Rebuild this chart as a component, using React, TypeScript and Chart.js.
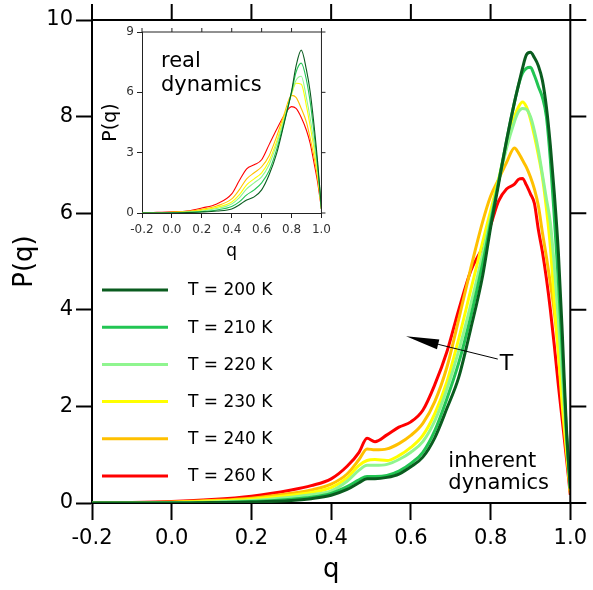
import React, { useEffect, useRef } from "react";
import { Chart, registerables } from "chart.js";

Chart.register(...registerables);

// ---------- data ----------
const seriesLabels = ["T = 200 K", "T = 210 K", "T = 220 K", "T = 230 K", "T = 240 K", "T = 260 K"];
const seriesColors = ["#0a5c1f", "#22c553", "#8ff58f", "#ffff00", "#ffc000", "#ff0000"];

const xTickValues = [-0.2, 0, 0.2, 0.4, 0.6, 0.8, 1.0];
const yTickMain = [0, 2, 4, 6, 8, 10];
const yTickInset = [0, 3, 6, 9];

// inherent dynamics (main panel)
const qMain = [-0.2, -0.1, 0, 0.1, 0.2, 0.3, 0.35, 0.4, 0.44, 0.47, 0.49, 0.51, 0.54, 0.57, 0.6, 0.63, 0.66, 0.69, 0.72, 0.75, 0.78, 0.8, 0.82, 0.84, 0.86, 0.87, 0.88, 0.89, 0.9, 0.91, 0.92, 0.93, 0.94, 0.95, 0.96, 0.97, 0.98, 0.99, 1.0];
const main200 = [0, 0, 0, 0.01, 0.02, 0.05, 0.09, 0.16, 0.28, 0.42, 0.5, 0.5, 0.53, 0.6, 0.75, 0.95, 1.35, 1.95, 2.6, 3.6, 4.7, 5.7, 6.6, 7.5, 8.3, 8.65, 9.0, 9.28, 9.33, 9.22, 9.05, 8.75, 8.2, 7.4, 6.4, 5.2, 3.5, 1.6, 0.3];
const main210 = [0, 0, 0, 0.01, 0.03, 0.08, 0.12, 0.2, 0.34, 0.48, 0.55, 0.55, 0.57, 0.66, 0.82, 1.05, 1.5, 2.15, 2.9, 3.85, 4.95, 5.8, 6.65, 7.5, 8.3, 8.65, 8.9, 9.0, 9.02, 8.85, 8.62, 8.4, 8.0, 7.1, 5.9, 4.6, 3.1, 1.5, 0.3];
const main220 = [0, 0, 0.01, 0.02, 0.05, 0.12, 0.17, 0.25, 0.45, 0.68, 0.78, 0.78, 0.8, 0.9, 1.05, 1.27, 1.7, 2.35, 3.15, 4.1, 5.15, 5.9, 6.65, 7.35, 7.9, 8.1, 8.17, 8.15, 8.0, 7.7, 7.3, 6.8, 6.3, 5.8, 4.9, 3.8, 2.6, 1.4, 0.3];
const main230 = [0, 0, 0.01, 0.04, 0.08, 0.16, 0.22, 0.32, 0.52, 0.78, 0.88, 0.9, 0.88, 0.98, 1.15, 1.4, 1.85, 2.5, 3.4, 4.4, 5.4, 6.05, 6.7, 7.4, 8.0, 8.2, 8.3, 8.2, 7.95, 7.6, 7.2, 6.75, 6.1, 5.3, 4.15, 3.1, 2.0, 1.1, 0.25];
const main240 = [0, 0, 0.02, 0.05, 0.1, 0.2, 0.27, 0.39, 0.6, 0.9, 1.12, 1.1, 1.12, 1.23, 1.4, 1.65, 2.1, 2.8, 3.8, 4.85, 5.82, 6.35, 6.7, 7.05, 7.35, 7.25, 7.1, 6.95, 6.75, 6.5, 6.15, 5.6, 5.1, 4.55, 3.95, 3.2, 2.3, 1.3, 0.2];
const main260 = [0, 0.01, 0.03, 0.07, 0.14, 0.27, 0.36, 0.5, 0.76, 1.05, 1.34, 1.27, 1.41, 1.57, 1.68, 1.92, 2.45, 3.12, 4.0, 4.8, 5.3, 5.75, 6.25, 6.5, 6.6, 6.7, 6.72, 6.58, 6.4, 6.2, 5.65, 5.2, 4.65, 4.0, 3.25, 2.44, 1.7, 0.95, 0.17];

// real dynamics (inset)
const qInset = [-0.2, -0.1, 0, 0.1, 0.2, 0.3, 0.4, 0.45, 0.5, 0.55, 0.6, 0.65, 0.7, 0.75, 0.8, 0.83, 0.865, 0.9, 0.925, 0.95, 0.975, 1.0];
const in200 = [0, 0, 0, 0.02, 0.05, 0.1, 0.2, 0.4, 0.65, 0.8, 1.15, 1.9, 2.95, 4.45, 6.05, 7.3, 8.1, 7.1, 6.0, 4.4, 2.5, 0.2];
const in210 = [0, 0, 0.01, 0.03, 0.07, 0.15, 0.32, 0.55, 0.9, 1.15, 1.5, 2.1, 3.15, 4.5, 6.0, 7.0, 7.45, 6.6, 5.5, 4.0, 2.3, 0.2];
const in220 = [0, 0, 0.02, 0.05, 0.1, 0.22, 0.45, 0.75, 1.2, 1.5, 1.8, 2.4, 3.4, 4.65, 5.95, 6.6, 6.8, 5.7, 4.7, 3.5, 2.1, 0.2];
const in230 = [0, 0.01, 0.03, 0.06, 0.14, 0.28, 0.55, 0.9, 1.4, 1.7, 2.0, 2.6, 3.55, 4.75, 5.9, 6.45, 6.4, 5.3, 4.3, 3.2, 1.9, 0.2];
const in240 = [0, 0.02, 0.04, 0.08, 0.18, 0.35, 0.7, 1.15, 1.7, 2.0, 2.3, 2.85, 3.8, 4.9, 5.85, 5.75, 5.2, 4.5, 3.7, 2.8, 1.7, 0.2];
const in260 = [0, 0.03, 0.06, 0.1, 0.25, 0.45, 0.95, 1.6, 2.2, 2.4, 2.65, 3.4, 4.15, 4.85, 5.29, 5.2, 4.75, 4.1, 3.45, 2.5, 1.5, 0.2];

const mainSeries = [main200, main210, main220, main230, main240, main260];
const insetSeries = [in200, in210, in220, in230, in240, in260];

const FONT = "'DejaVu Sans', Verdana, sans-serif";

// ---------- plugins ----------
const framePlugin = {
  id: "frame",
  afterDatasetsDraw(chart: any, _args: any, opts: any) {
    const { ctx, chartArea: a, scales } = chart;
    ctx.save();
    ctx.strokeStyle = opts.color;
    ctx.lineWidth = opts.width;
    ctx.beginPath();
    ctx.moveTo(a.left, a.top);
    ctx.lineTo(a.right, a.top);
    ctx.lineTo(a.right, a.bottom);
    for (const v of opts.xTicks) {
      const x = scales.x.getPixelForValue(v);
      ctx.moveTo(x, a.top);
      ctx.lineTo(x, a.top - opts.len);
    }
    for (const v of opts.yTicks) {
      const y = scales.y.getPixelForValue(v);
      ctx.moveTo(a.right, y);
      ctx.lineTo(a.right + opts.len, y);
    }
    ctx.stroke();
    ctx.restore();
  },
};

const mainDecorPlugin = {
  id: "mainDecor",
  afterDraw(chart: any) {
    const { ctx, chartArea: a, scales } = chart;
    const sx = scales.x;
    const sy = scales.y;
    ctx.save();
    // legend
    ctx.font = `17px ${FONT}`;
    ctx.textBaseline = "middle";
    ctx.textAlign = "left";
    chart.data.datasets.forEach((ds: any, i: number) => {
      const y = a.top + 270 + i * 37.2;
      ctx.strokeStyle = ds.borderColor;
      ctx.lineWidth = 3;
      ctx.beginPath();
      ctx.moveTo(a.left + 10, y);
      ctx.lineTo(a.left + 76, y);
      ctx.stroke();
      ctx.fillStyle = "#000";
      ctx.fillText(ds.label, a.left + 96, y + 1);
    });
    // arrow pointing towards increasing T
    const tipX = sx.getPixelForValue(0.588);
    const tipY = sy.getPixelForValue(3.45);
    const tailX = sx.getPixelForValue(0.818);
    const tailY = sy.getPixelForValue(2.98);
    const ang = Math.atan2(tipY - tailY, tipX - tailX);
    const headLen = 33;
    const headHalf = 5;
    const bx = tipX - headLen * Math.cos(ang);
    const by = tipY - headLen * Math.sin(ang);
    ctx.strokeStyle = "#000";
    ctx.lineWidth = 1;
    ctx.beginPath();
    ctx.moveTo(tailX, tailY);
    ctx.lineTo(bx, by);
    ctx.stroke();
    ctx.fillStyle = "#000";
    ctx.beginPath();
    ctx.moveTo(tipX, tipY);
    ctx.lineTo(bx + headHalf * Math.sin(ang), by - headHalf * Math.cos(ang));
    ctx.lineTo(bx - headHalf * Math.sin(ang), by + headHalf * Math.cos(ang));
    ctx.closePath();
    ctx.fill();
    ctx.font = `22px ${FONT}`;
    ctx.textAlign = "left";
    ctx.textBaseline = "middle";
    ctx.fillText("T", tailX + 2, tailY + 5);
    // inherent dynamics label
    ctx.font = `21px ${FONT}`;
    ctx.textBaseline = "alphabetic";
    const lx = sx.getPixelForValue(0.694);
    ctx.fillText("inherent", lx, sy.getPixelForValue(0.75));
    ctx.fillText("dynamics", lx, sy.getPixelForValue(0.3));
    ctx.restore();
  },
};

const insetDecorPlugin = {
  id: "insetDecor",
  afterDraw(chart: any) {
    const { ctx, chartArea: a } = chart;
    ctx.save();
    ctx.fillStyle = "#000";
    ctx.font = `21px ${FONT}`;
    ctx.textAlign = "left";
    ctx.textBaseline = "alphabetic";
    ctx.fillText("real", a.left + 19, a.top + 35);
    ctx.fillText("dynamics", a.left + 19, a.top + 59);
    ctx.restore();
  },
};

function makeDatasets(xs: number[], series: number[][], width: number) {
  return series.map((vals, i) => ({
    label: seriesLabels[i],
    data: xs.map((q, j) => ({ x: q, y: vals[j] })),
    borderColor: seriesColors[i],
    backgroundColor: seriesColors[i],
    borderWidth: width,
    pointRadius: 0,
    fill: false,
    cubicInterpolationMode: "monotone" as const,
    borderJoinStyle: "round" as const,
  }));
}

export default function App() {
  const mainRef = useRef<HTMLCanvasElement>(null);
  const insetRef = useRef<HTMLCanvasElement>(null);

  useEffect(() => {
    const mainChart = new Chart(mainRef.current!, {
      type: "line",
      data: { datasets: makeDatasets(qMain, mainSeries, 3) },
      plugins: [framePlugin, mainDecorPlugin],
      options: {
        animation: false,
        responsive: false,
        events: [],
        layout: { padding: { top: 20, right: 18, left: 0, bottom: 0 } },
        plugins: {
          legend: { display: false },
          tooltip: { enabled: false },
          frame: { color: "#000", width: 2, len: 16, xTicks: xTickValues, yTicks: yTickMain },
        } as any,
        scales: {
          x: {
            type: "linear",
            min: -0.2,
            max: 1.0,
            afterBuildTicks: (s: any) => {
              s.ticks = xTickValues.map((v) => ({ value: v }));
            },
            afterFit: (s: any) => {
              s.height = 87;
            },
            ticks: {
              autoSkip: false,
              maxRotation: 0,
              padding: 6,
              color: "#000",
              font: { family: FONT, size: 21 },
              callback: (v: any) => Number(v).toFixed(1),
            },
            grid: { drawOnChartArea: false, drawTicks: true, tickLength: 17, tickWidth: 2, tickColor: "#000", color: "#000" },
            border: { display: true, color: "#000", width: 2 },
            title: { display: true, text: "q", color: "#000", font: { family: FONT, size: 26 }, padding: { top: 0, bottom: 4 } },
          },
          y: {
            type: "linear",
            min: 0,
            max: 10,
            afterBuildTicks: (s: any) => {
              s.ticks = yTickMain.map((v) => ({ value: v }));
            },
            afterFit: (s: any) => {
              s.width = 92;
            },
            ticks: {
              autoSkip: false,
              padding: 3,
              color: "#000",
              font: { family: FONT, size: 21 },
              callback: (v: any) => String(v),
            },
            grid: { drawOnChartArea: false, drawTicks: true, tickLength: 16, tickWidth: 2, tickColor: "#000", color: "#000" },
            border: { display: true, color: "#000", width: 2 },
            title: { display: true, text: "P(q)", color: "#000", font: { family: FONT, size: 26 }, padding: { top: 10, bottom: 0 } },
          },
        },
      },
    });

    const insetChart = new Chart(insetRef.current!, {
      type: "line",
      data: { datasets: makeDatasets(qInset, insetSeries, 1.1) },
      plugins: [framePlugin, insetDecorPlugin],
      options: {
        animation: false,
        responsive: false,
        events: [],
        layout: { padding: { top: 16, right: 14, left: 0, bottom: 0 } },
        plugins: {
          legend: { display: false },
          tooltip: { enabled: false },
          frame: { color: "#222", width: 1, len: 4, xTicks: xTickValues, yTicks: yTickInset },
        } as any,
        scales: {
          x: {
            type: "linear",
            min: -0.2,
            max: 1.0,
            afterBuildTicks: (s: any) => {
              s.ticks = xTickValues.map((v) => ({ value: v }));
            },
            afterFit: (s: any) => {
              s.height = 53;
            },
            ticks: {
              autoSkip: false,
              maxRotation: 0,
              padding: 5,
              color: "#333",
              font: { family: FONT, size: 12 },
              callback: (v: any) => Number(v).toFixed(1),
            },
            grid: { drawOnChartArea: false, drawTicks: true, tickLength: 5, tickWidth: 1, tickColor: "#222", color: "#222" },
            border: { display: true, color: "#222", width: 1 },
            title: { display: true, text: "q", color: "#000", font: { family: FONT, size: 17 }, padding: { top: 0, bottom: 4 } },
          },
          y: {
            type: "linear",
            min: 0,
            max: 9,
            afterBuildTicks: (s: any) => {
              s.ticks = yTickInset.map((v) => ({ value: v }));
            },
            afterFit: (s: any) => {
              s.width = 46;
            },
            ticks: {
              autoSkip: false,
              padding: 3,
              color: "#333",
              font: { family: FONT, size: 12 },
              callback: (v: any) => String(v),
            },
            grid: { drawOnChartArea: false, drawTicks: true, tickLength: 5, tickWidth: 1, tickColor: "#222", color: "#222" },
            border: { display: true, color: "#222", width: 1 },
            title: { display: true, text: "P(q)", color: "#000", font: { family: FONT, size: 19 }, padding: { top: 4, bottom: 0 } },
          },
        },
      },
    });

    return () => {
      mainChart.destroy();
      insetChart.destroy();
    };
  }, []);

  return (
    <div style={{ position: "fixed", left: 0, top: 0, width: 593, height: 590, background: "#fff" }}>
      <canvas ref={mainRef} width={593} height={590} style={{ position: "absolute", left: 0, top: 0, width: 593, height: 590 }} />
      <canvas ref={insetRef} width={240} height={250} style={{ position: "absolute", left: 96, top: 16, width: 240, height: 250 }} />
    </div>
  );
}
